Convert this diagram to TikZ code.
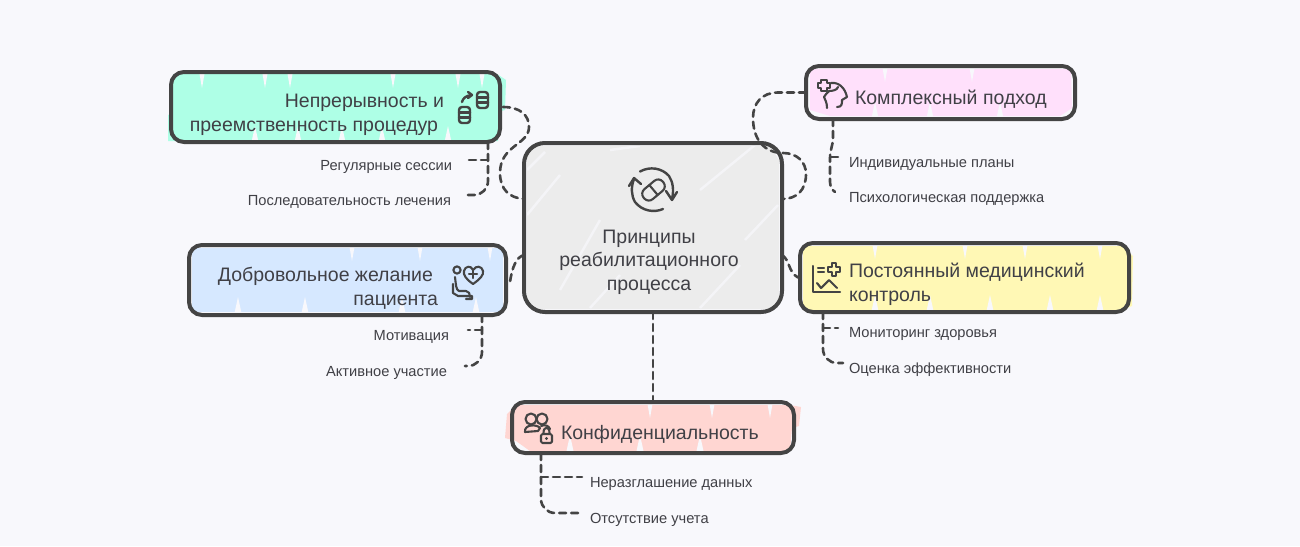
\documentclass[tikz,border=0pt]{standalone}
\usepackage{fontspec}
\setmainfont{Liberation Sans}
\usetikzlibrary{arrows.meta}
\definecolor{bgc}{HTML}{F8F8FC}
\definecolor{ink}{HTML}{444444}
\definecolor{txt}{HTML}{404046}
\definecolor{fa}{HTML}{AEFFE6}
\definecolor{fb}{HTML}{FFE0FB}
\definecolor{fm}{HTML}{ECECEC}
\definecolor{fmline}{HTML}{F4F4F7}
\definecolor{fc}{HTML}{D6E8FF}
\definecolor{fd}{HTML}{FFF8B5}
\definecolor{fe}{HTML}{FFD6D2}
\tikzset{
  boxnode/.style={draw=ink,line width=4pt,rounded corners=13pt,inner sep=0pt,outer sep=0pt,anchor=north west},
  mainbox/.style={boxnode,rounded corners=21pt},
  bigtext/.style={text=txt,font=\fontsize{19.5}{24}\selectfont,inner sep=0pt,outer sep=0pt},
  smalltext/.style={text=txt,font=\fontsize{14.65}{18}\selectfont,inner sep=0pt,outer sep=0pt},
  link/.style={draw=ink,line width=2.6pt,dash pattern=on 7pt off 5pt,line cap=round,rounded corners=14pt},
  curvelink/.style={draw=ink,line width=2.6pt,dash pattern=on 7pt off 5pt,line cap=round},
  icon/.style={draw=ink,line width=2.1pt,line cap=round,line join=round},
}
% spikes of the background colour cut into the top and bottom of a fill
\newcommand{\SketchSpikes}[4]{%
  \foreach \sx in {#3} {\fill[bgc] (\sx-2.5,#1) -- (\sx+2.5,#1) -- (\sx,#1+14) -- cycle;}%
  \foreach \sx in {#4} {\fill[bgc] (\sx-3.5,#2) -- (\sx+3.5,#2) -- (\sx,#2-16) -- cycle;}%
}
\begin{document}
\begin{tikzpicture}[x=1pt,y=-1pt]
\useasboundingbox (0,0) rectangle (1300,546);
\fill[bgc] (0,0) rectangle (1300,546);

% --- sketchy fills
\fill[fa] (173,74) -- (497,74) -- (506,80) -- (505,110) -- (498,112) -- (498,141) -- (168,141) -- (168,115) -- (173,113) -- cycle;
\SketchSpikes{74}{142}{202,265,290,393,458,482}{255,298,342,382,448}

\fill[fb] (810,69) -- (1071,69) -- (1072,108) -- (1060,116) -- (830,116) -- (810,110) -- cycle;
\SketchSpikes{68}{118}{885,972}{875,930,1000}

\fill[fm] (532,146) -- (770,146) -- (779,160) -- (779,300) -- (770,309) -- (535,309) -- (527,300) -- (527,156) -- cycle;
\foreach \ax/\ay/\bx/\by in {527/215/560/175, 560/290/600/220, 700/190/755/145, 745/240/778/205, 590/308/620/275, 700/308/740/265, 527/170/545/152, 610/150/640/146}
  {\draw[fmline,line width=2.5pt] (\ax,\ay) -- (\bx,\by);}

\fill[fc] (192,248) -- (503,248) -- (503,312) -- (192,312) -- cycle;
\SketchSpikes{247}{313}{352,420,490}{238,305,402,476}

\fill[fd] (803,246) -- (1122,246) -- (1133,256) -- (1132,306) -- (1122,310) -- (803,310) -- cycle;
\SketchSpikes{245}{311}{875,965,1025,1100}{990,875,930,1050,1100}

\fill[fe] (516,405) -- (790,405) -- (801,407) -- (799,426) -- (792,428) -- (790,451) -- (530,451) -- (516,441) -- (505,438) -- (507,414) -- cycle;
\SketchSpikes{404}{451}{650,712,770}{570,640,700}

% --- boxes
\node[boxnode,minimum width=329pt,minimum height=70pt] (nA) at (171,72) {};
\node[boxnode,minimum width=269pt,minimum height=53pt] (nB) at (806,66) {};
\node[mainbox,minimum width=258pt,minimum height=169pt] (nM) at (524,143) {};
\node[boxnode,minimum width=317pt,minimum height=70pt] (nC) at (189,245) {};
\node[boxnode,minimum width=329pt,minimum height=69pt] (nD) at (800,243) {};
\node[boxnode,minimum width=282pt,minimum height=51pt] (nE) at (512,402) {};

% --- box texts
\node[bigtext,align=right,anchor=east] (tA) at (444,114.5) {Непрерывность и\\преемственность процедур\hspace*{6pt}};
\node[bigtext,anchor=west] (tB) at (855,99) {Комплексный подход};
\node[bigtext,align=center,font=\fontsize{19.5}{23.6}\selectfont] (tM) at (649,262) {Принципы\\реабилитационного\hspace*{9pt}\\процесса};
\node[bigtext,align=right,anchor=east] (tC) at (438,288) {Добровольное желание\hspace*{5pt}\\пациента};
\node[bigtext,align=left,anchor=west] (tD) at (849,284.5) {Постоянный медицинский\\контроль};
\node[bigtext,anchor=west] (tE) at (561,434.5) {Конфиденциальность};

% --- child labels
\node[smalltext,anchor=east] (a1) at (452,166.5) {Регулярные сессии};
\node[smalltext,anchor=east] (a2) at (451,201.5) {Последовательность лечения};
\node[smalltext,anchor=west] (b1) at (849,163.5) {Индивидуальные планы};
\node[smalltext,anchor=west] (b2) at (849,198.5) {Психологическая поддержка};
\node[smalltext,anchor=east] (c1) at (449,336.5) {Мотивация};
\node[smalltext,anchor=east] (c2) at (447,372.5) {Активное участие};
\node[smalltext,anchor=west] (d1) at (849,333.5) {Мониторинг здоровья};
\node[smalltext,anchor=west] (d2) at (849,369.5) {Оценка эффективности};
\node[smalltext,anchor=west] (e1) at (590,483.5) {Неразглашение данных};
\node[smalltext,anchor=west] (e2) at (590,519.5) {Отсутствие учета};

% --- main to boxes (yshift is on the page: positive = up)
\draw[curvelink] ([xshift=3pt]nA.east) .. controls (520,107) and (529,115) .. (529,127)
  .. controls (529,145) and (500,145) .. (500,173) .. controls (500,190) and (510,198) .. ([yshift=28.5pt]nM.west);
\draw[curvelink] (nB.west) -- (778,92.5) .. controls (762,92.5) and (753,103) .. (753,118)
  .. controls (753,140) and (765,153) .. (783,153) .. controls (797,153) and (806,162) .. (806,174)
  .. controls (806,190) and (797,199) .. ([yshift=28.5pt]nM.east);
\draw[curvelink] ([yshift=-27.5pt]nM.west) .. controls (516,257) and (512,268) .. ([yshift=-2pt,xshift=4pt]nC.east);
\draw[curvelink] ([yshift=-27.5pt]nM.east) .. controls (790,260) and (788,272) .. ([xshift=-2pt]nD.west);
\draw[curvelink] (nM.south) -- (nE.north);

% --- box to children
\coordinate (ja1) at (465,160); \coordinate (ja2) at (465,195);
\coordinate (jb1) at (842,157); \coordinate (jb2) at (835,192);
\coordinate (jc1) at (468,330); \coordinate (jc2) at (465,366);
\coordinate (jd1) at (838,328); \coordinate (jd2) at (843,363);
\coordinate (je1) at (582,477); \coordinate (je2) at (582,513);
\draw[link] ([xshift=152.5pt]nA.south) -- (488,195) -- (ja2);
\draw[curvelink] (488,160) -- (ja1);
\draw[curvelink] ([xshift=-107.5pt]nB.south) -- (833,138) .. controls (833,145) and (830,150) .. (830,158) -- (830,182) .. controls (830,186) and (832,190) .. (jb2);
\draw[curvelink] (831,157) -- (jb1);
\draw[link] ([xshift=134.5pt]nC.south) -- (482,366) -- (jc2);
\draw[curvelink] (482,330) -- (jc1);
\draw[link] ([xshift=-141.5pt]nD.south) -- (823,363) -- (jd2);
\draw[curvelink] (823,328) -- (jd1);
\draw[link] ([xshift=-112pt]nE.south) -- (541,513) -- (je2);
\draw[curvelink] (541,477) -- (je1);

% --- icon: main (pill and cycle)
\draw[icon,line width=2.4pt] (640,171.5) .. controls (650,166) and (662,168) .. (669,176) .. controls (673,182) and (674,190) .. (672,199);
\draw[icon,line width=2.4pt] (666,191) -- (672,200) -- (677,192);
\draw[icon,line width=2.4pt] (663,209) .. controls (654,213) and (642,211) .. (635,202) .. controls (631,195) and (631,187) .. (634,179);
\draw[icon,line width=2.4pt] (629,186) -- (634,178) -- (641,184);
\begin{scope}[shift={(653.5,190)},rotate=40]
  \draw[icon,rounded corners=6pt] (-12.5,-6.5) rectangle (12.5,6.5);
  \draw[icon] (0,-6.5) -- (0,6.5);
\end{scope}

% --- icon: databases (A)
\foreach \dx/\dy in {477/92,459/107}{
  \draw[icon,line width=2.4pt,rounded corners=3pt] (\dx,\dy) rectangle (\dx+11,\dy+16);
  \draw[icon,line width=2.4pt] (\dx,\dy+5.3) -- (\dx+11,\dy+5.3) (\dx,\dy+10.6) -- (\dx+11,\dy+10.6);
}
\draw[icon,line width=2.4pt] (462,102) .. controls (463,98) and (466,96) .. (471,95);
\draw[icon,line width=2.4pt] (468,92) -- (472,95) -- (468,98);

% --- icon: head (B)
\draw[icon] (821,80) -- (827,80) -- (827,83) -- (830,83) -- (830,88) -- (827,88) -- (827,91) -- (821,91) -- (821,88) -- (818,88) -- (818,83) -- (821,83) -- cycle;
\draw[icon] (831,83) .. controls (839,82) and (845,88) .. (847,97) -- (842,100) .. controls (842,104) and (842,107) .. (837,107);
\draw[icon] (824,97) .. controls (825,100) and (827,102) .. (827,108);
\draw[icon] (829,91) .. controls (833,91) and (837,90) .. (838,87);
\draw[icon] (824,97) .. controls (825,95) and (827,93) .. (829,91);

% --- icon: patient and heart (C)
\draw[icon] (457,270) circle[radius=3.6pt];
\draw[icon] (455,277) .. controls (456,285) and (456,290) .. (459,291) -- (466,291) .. controls (469,291) and (470,294) .. (470,297);
\draw[icon] (453,284) -- (453,293) -- (458,296) -- (472,296) -- (472,299) -- (466,299);
\draw[icon] (473,284) .. controls (466,279) and (463,275) .. (464,271) .. controls (465,266) and (471,265) .. (473,270) .. controls (476,265) and (482,266) .. (483,271) .. controls (484,275) and (480,279) .. (473,284) -- cycle;
\draw[icon] (469,274) -- (477,274) (473,270) -- (473,278);

% --- icon: chart (D)
\draw[icon] (813,266) -- (813,292) -- (840,292);
\draw[icon] (818,268) -- (824,268) (818,272) -- (824,272);
\draw[icon] (832,263) -- (836,263) -- (836,267) -- (840,267) -- (840,272) -- (836,272) -- (836,276) -- (832,276) -- (832,272) -- (828,272) -- (828,267) -- (832,267) -- cycle;
\draw[icon] (817,283) -- (821,288) -- (829,280) -- (837,288);

% --- icon: people and lock (E)
\draw[icon] (531,419) circle[radius=5.5pt];
\draw[icon] (542,419) circle[radius=5.5pt];
\draw[icon] (525,432) .. controls (524,424) and (537,424) .. (540,428) -- (538,431) -- cycle;
\draw[icon] (541,426) .. controls (545,424) and (549,426) .. (550,429);
\draw[icon,rounded corners=1.5pt] (541,434) rectangle (552,443);
\draw[icon] (543.5,433) .. controls (543.5,426) and (549.5,426) .. (549.5,433);
\fill[ink] (546.5,438.5) circle[radius=1.6pt];
\end{tikzpicture}
\end{document}
